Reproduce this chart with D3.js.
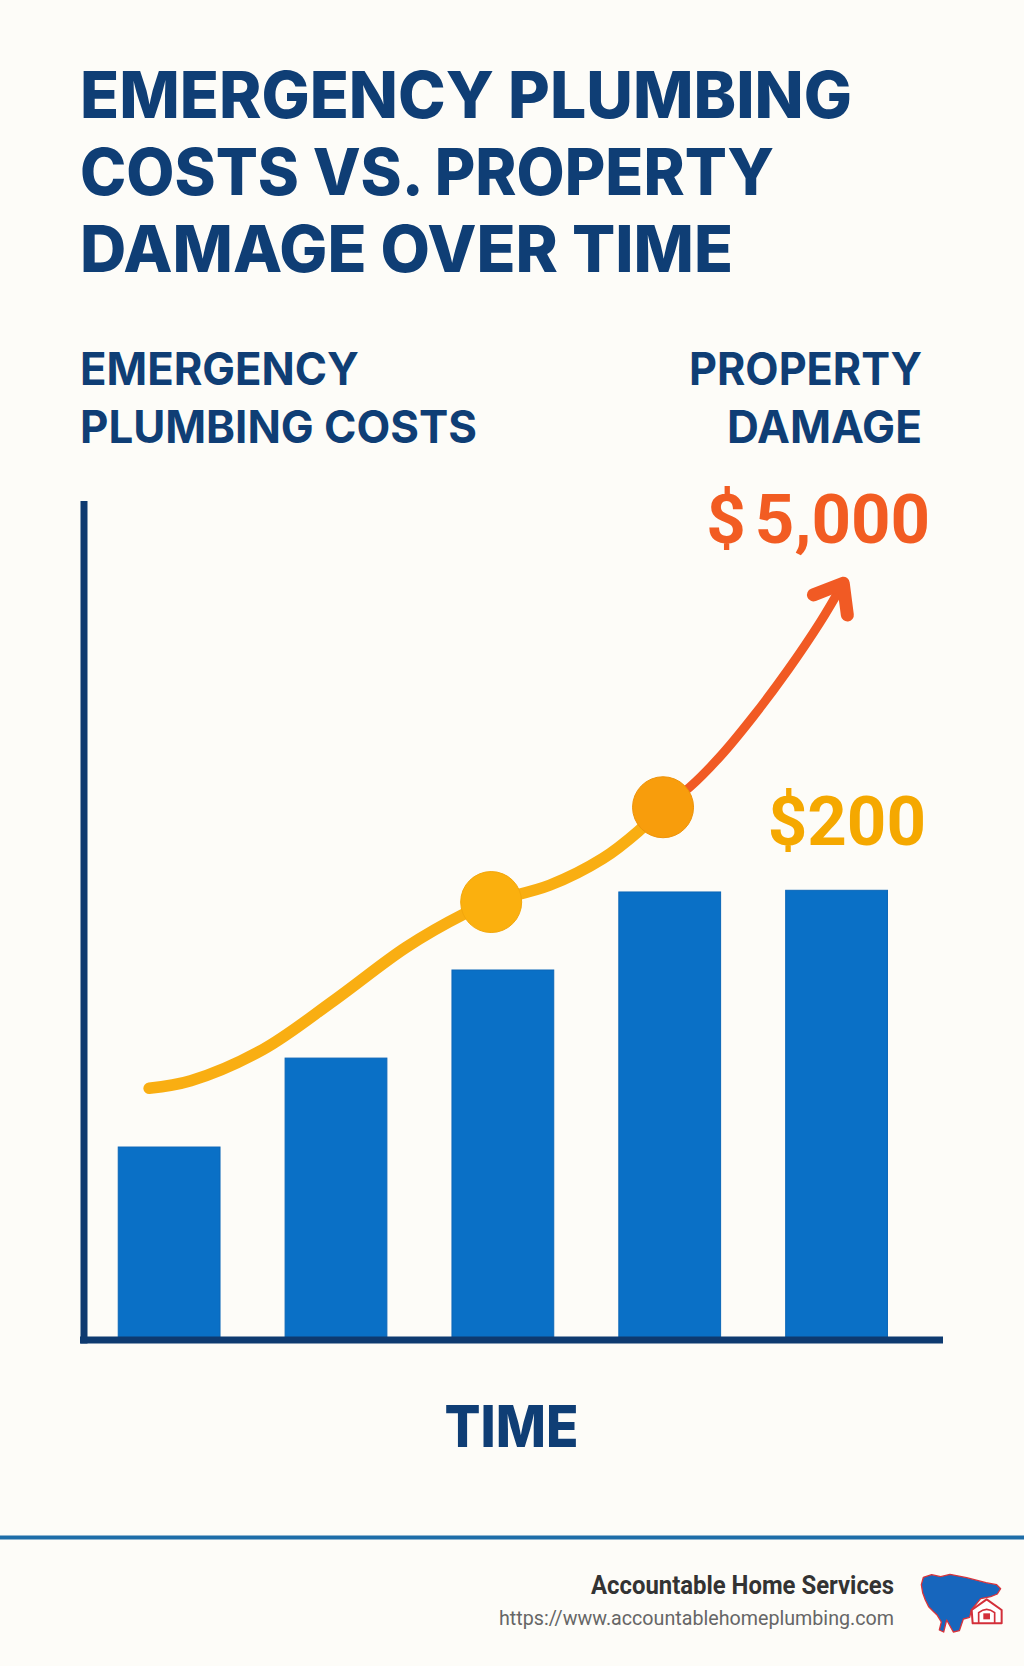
<!DOCTYPE html>
<html>
<head>
<meta charset="utf-8">
<script src="https://cdn.jsdelivr.net/npm/d3@7"></script>
<style>
  html, body { margin: 0; padding: 0; background: #FDFCF8; }
  svg { display: block; }
</style>
</head>
<body>
<script>
// ---------------- DATA ----------------
const titleLines = ["EMERGENCY PLUMBING", "COSTS VS. PROPERTY", "DAMAGE OVER TIME"];
const leftLabel = ["EMERGENCY", "PLUMBING COSTS"];
const rightLabel = ["PROPERTY", "DAMAGE"];
const xAxisLabel = "TIME";

// time periods (bars) and emergency plumbing cost index (0-100 scale of the axis)
const periods = ["T1", "T2", "T3", "T4", "T5"];
const plumbingCost = [23.0, 33.6, 44.1, 53.4, 53.6];

// property damage curve: time position (in period units) and damage index
const damageTime  = [-0.12, 0.13, 0.56, 0.99, 1.42, 1.76, 1.93, 2.28, 2.60, 2.81, 2.96, 3.12, 3.30, 3.50, 3.71, 3.90, 4.04];
const damageValue = [30.0, 30.9, 34.6, 40.5, 46.8, 50.7, 52.2, 54.2, 57.4, 60.6, 63.5, 65.9, 69.5, 74.3, 79.9, 85.5, 90.2];
const markerIdx = [6, 10];          // highlighted points on the damage curve
const escalateFrom = 10;            // from here the curve turns red-orange

const damageLabel = "$5,000";
const costLabel = "$200";
const brandName = "Accountable Home Services";
const brandUrl = "https://www.accountablehomeplumbing.com";

// ---------------- LAYOUT ----------------
const W = 1024, H = 1666;
const navy = "#0F3E75";
const svg = d3.select("body").append("svg").attr("width", W).attr("height", H);
svg.append("rect").attr("width", W).attr("height", H).attr("fill", "#FDFCF8");

const headFont = "Inter, 'Open Sans', 'Liberation Sans', sans-serif";

// title
const titleBase = [118, 195, 272], titleLen = [772, 694, 653];
svg.append("g").selectAll("text").data(titleLines).join("text")
  .attr("x", 80).attr("y", (d, i) => titleBase[i])
  .attr("textLength", (d, i) => titleLen[i]).attr("lengthAdjust", "spacingAndGlyphs")
  .attr("font-family", headFont).attr("font-weight", 800).attr("font-size", 64)
  .attr("fill", navy).text(d => d);

// series labels
const subBase = [385, 443];
svg.append("g").selectAll("text").data(leftLabel).join("text")
  .attr("x", 80).attr("y", (d, i) => subBase[i])
  .attr("textLength", (d, i) => [279, 397][i]).attr("lengthAdjust", "spacingAndGlyphs")
  .attr("font-family", headFont).attr("font-weight", 700).attr("font-size", 45)
  .attr("fill", navy).text(d => d);
svg.append("g").selectAll("text").data(rightLabel).join("text")
  .attr("x", 922).attr("y", (d, i) => subBase[i]).attr("text-anchor", "end")
  .attr("textLength", (d, i) => [233, 195][i]).attr("lengthAdjust", "spacingAndGlyphs")
  .attr("font-family", headFont).attr("font-weight", 700).attr("font-size", 45)
  .attr("fill", navy).text(d => d);

// scales
const x = d3.scaleBand().domain(periods).range([87, 943])
  .paddingInner(0.39).paddingOuter(0.26).align(0.36);
const bw = x.bandwidth();
const y = d3.scaleLinear().domain([0, 100]).range([1340, 501]);
const t = d3.scaleLinear().domain([0, periods.length - 1])
  .range([x(periods[0]) + bw / 2, x(periods[periods.length - 1]) + bw / 2]);

// bars
svg.append("g").selectAll("rect").data(plumbingCost).join("rect")
  .attr("x", (d, i) => x(periods[i])).attr("width", bw)
  .attr("y", d => y(d)).attr("height", d => y(0) - y(d))
  .attr("fill", "#0A70C6").attr("stroke", "#0B66B8").attr("stroke-width", 1);

// axes
const axisW = 7;
svg.append("line").attr("x1", 84).attr("x2", 84)
  .attr("y1", y(100)).attr("y2", y(0) + axisW / 2)
  .attr("stroke", "#0E3A70").attr("stroke-width", axisW);
svg.append("line").attr("x1", 80).attr("x2", 943)
  .attr("y1", y(0)).attr("y2", y(0))
  .attr("stroke", "#0E3A70").attr("stroke-width", axisW);

// damage curve
const pts = damageTime.map((d, i) => [t(d), y(damageValue[i])]);
const line = d3.line().curve(d3.curveCatmullRom.alpha(0.5));
svg.append("path").attr("d", line(pts.slice(0, escalateFrom + 1)))
  .attr("fill", "none").attr("stroke", "#F9AE12").attr("stroke-width", 11.5)
  .attr("stroke-linecap", "round");
svg.append("path").attr("d", line(pts.slice(escalateFrom)))
  .attr("fill", "none").attr("stroke", "#F15A24").attr("stroke-width", 9)
  .attr("stroke-linecap", "round");

// arrow head
const tip = pts[pts.length - 1], prev = pts[pts.length - 2];
const ang = Math.atan2(prev[1] - tip[1], prev[0] - tip[0]);
const wingLen = 32, spread = 38 * Math.PI / 180;
const w1 = [tip[0] + wingLen * Math.cos(ang - spread), tip[1] + wingLen * Math.sin(ang - spread)];
const w2 = [tip[0] + wingLen * Math.cos(ang + spread), tip[1] + wingLen * Math.sin(ang + spread)];
svg.append("path").attr("d", d3.line()([w1, tip, w2]))
  .attr("fill", "none").attr("stroke", "#F15A24").attr("stroke-width", 13)
  .attr("stroke-linejoin", "round").attr("stroke-linecap", "round");

// markers
svg.append("g").selectAll("circle").data(markerIdx).join("circle")
  .attr("cx", i => pts[i][0]).attr("cy", i => pts[i][1]).attr("r", 30.5)
  .attr("fill", (d, k) => k === 0 ? "#FBB00E" : "#F89D0C")
  .attr("stroke", (d, k) => k === 0 ? "#F3A70C" : "#EE930A").attr("stroke-width", 1);

// value labels
const numFont = "Roboto, 'Liberation Sans', sans-serif";
const dl = svg.append("text")
  .attr("x", tip[0] - 137).attr("y", tip[1] - 40)
  .attr("font-family", numFont).attr("font-weight", 700).attr("font-size", 69)
  .attr("fill", "#F25C22");
dl.append("tspan").text(damageLabel.slice(0, 1));
dl.append("tspan").attr("dx", 9).text(damageLabel.slice(1));

svg.append("text")
  .attr("x", 926).attr("y", y(plumbingCost[4]) - 45)
  .attr("text-anchor", "end")
  .attr("font-family", numFont).attr("font-weight", 700).attr("font-size", 69)
  .attr("fill", "#F5A800").text(costLabel);

// x-axis label
svg.append("text").attr("x", (84 + 943) / 2 - 2).attr("y", 1447)
  .attr("text-anchor", "middle").attr("textLength", 134).attr("lengthAdjust", "spacingAndGlyphs")
  .attr("font-family", headFont).attr("font-weight", 800).attr("font-size", 58)
  .attr("fill", navy).text(xAxisLabel);

// footer
svg.append("line").attr("x1", 0).attr("x2", W).attr("y1", 1537.5).attr("y2", 1537.5)
  .attr("stroke", "#1E6DA8").attr("stroke-width", 4);
svg.append("text").attr("x", 894).attr("y", 1594).attr("text-anchor", "end")
  .attr("textLength", 303).attr("lengthAdjust", "spacingAndGlyphs")
  .attr("font-family", "Roboto, sans-serif").attr("font-weight", 700).attr("font-size", 25)
  .attr("fill", "#333333").text(brandName);
svg.append("text").attr("x", 894).attr("y", 1625).attr("text-anchor", "end")
  .attr("textLength", 395).attr("lengthAdjust", "spacingAndGlyphs")
  .attr("font-family", "Roboto, sans-serif").attr("font-weight", 400).attr("font-size", 21)
  .attr("fill", "#666666").text(brandUrl);

// logo (bison with house)
const logo = svg.append("g").attr("transform", "translate(900,1560) scale(0.3333)");
logo.append("path")
  .attr("d", "M70,52 L95,44 L122,50 L150,43 L200,53 L258,68 L290,74 L302,86 L292,102 L272,110 L242,116 L214,150 L209,172 L190,177 L178,212 L160,216 L150,198 L140,180 L131,216 L118,210 L124,186 L112,166 L98,152 L86,140 L76,120 L68,98 L64,74 Z")
  .attr("fill", "#1766BD").attr("stroke", "#D8343C").attr("stroke-width", 4).attr("stroke-linejoin", "round");
logo.append("path")
  .attr("d", "M215,150 L260,118 L305,150 L305,190 L218,190 Z")
  .attr("fill", "#FFFFFF").attr("stroke", "#D32F3A").attr("stroke-width", 6).attr("stroke-linejoin", "round");
logo.append("path")
  .attr("d", "M236,190 L236,158 Q260,138 284,158 L284,190")
  .attr("fill", "none").attr("stroke", "#D32F3A").attr("stroke-width", 5);
logo.append("rect").attr("x", 250).attr("y", 160).attr("width", 20).attr("height", 18)
  .attr("fill", "#D32F3A");
</script>
</body>
</html>
